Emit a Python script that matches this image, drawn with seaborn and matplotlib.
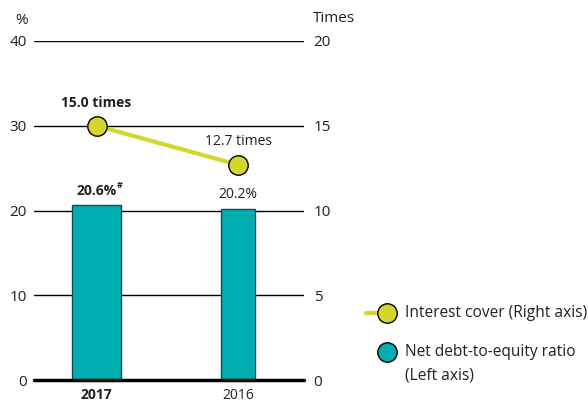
import matplotlib.pyplot as plt
import pandas as pd
import seaborn as sns
from matplotlib.lines import Line2D

years = ['2017', '2016']
net_debt_equity = [20.6, 20.2]
interest_cover = [15.0, 12.7]
debt_labels = ['20.6%', '20.2%']
cover_labels = ['15.0 times', '12.7 times']
left_ticks = [0, 10, 20, 30, 40]
right_ticks = [0, 5, 10, 15, 20]

teal = '#00adb0'
lime = '#d3d72b'
ink = '#231f20'

sns.set_style('white')
plt.rcParams['font.family'] = ['Open Sans', 'DejaVu Sans']
plt.rcParams['text.color'] = ink
plt.rcParams['xtick.color'] = ink
plt.rcParams['ytick.color'] = ink
fs = 10
lfs = 11.2

df = pd.DataFrame({'year': years, 'ratio': net_debt_equity, 'cover': interest_cover})

W, H = 588, 403
fig = plt.figure(figsize=(W / 100, H / 100), dpi=100)
ax = fig.add_axes([34 / W, 23 / H, 270 / W, 339 / H])

sns.barplot(data=df, x='year', y='ratio', ax=ax, color=teal, saturation=1,
            edgecolor='#0d4f50', linewidth=1, width=0.35, zorder=2)
# bars are not the same width in the original
for p, w in zip(ax.patches, [0.346, 0.24]):
    c = p.get_x() + p.get_width() / 2
    p.set_width(w)
    p.set_x(c - w / 2)

ax.set_xlim(-0.442, 1.466)
ax.set_ylim(0, 40)
ax.set_yticks(left_ticks)
ax.yaxis.grid(True, color='black', lw=1)
ax.xaxis.grid(False)
ax.set_axisbelow(True)
ax.axhline(0, color='black', lw=2.5, zorder=3, clip_on=False)
for s in ax.spines.values():
    s.set_visible(False)
ax.tick_params(axis='y', length=0, pad=5, labelsize=11)
ax.tick_params(axis='x', length=0, pad=6, labelsize=fs)
ax.set_xlabel('')
ax.set_ylabel('')
ax.get_xticklabels()[0].set_fontweight('bold')

ax2 = ax.twinx()
sns.lineplot(x=range(len(years)), y=interest_cover, ax=ax2, color=lime, lw=3,
             marker='o', markersize=14, markerfacecolor=lime,
             markeredgecolor='black', markeredgewidth=1, zorder=4)
ax2.set_ylim(0, 20)
ax2.set_yticks(right_ticks)
for s in ax2.spines.values():
    s.set_visible(False)
ax2.tick_params(axis='y', length=0, pad=7, labelsize=11)
ax2.set_ylabel('')

# value labels
for i, (v, t) in enumerate(zip(net_debt_equity, debt_labels)):
    ax.annotate(t, xy=(i, v), xytext=(0, 5), textcoords='offset points',
                ha='center', va='bottom', fontsize=fs,
                fontweight='bold' if i == 0 else 'normal')
ax.annotate('#', xy=(0, net_debt_equity[0]), xytext=(14.5, 11), textcoords='offset points',
            ha='left', va='bottom', fontsize=6.5, fontweight='bold')
for i, (v, t) in enumerate(zip(interest_cover, cover_labels)):
    ax2.annotate(t, xy=(i, v), xytext=(0, 11), textcoords='offset points',
                 ha='center', va='bottom', fontsize=fs,
                 fontweight='bold' if i == 0 else 'normal')

fig.text(22 / W, 1 - 20 / H, '%', ha='center', va='center', fontsize=11)
fig.text(313 / W, 1 - 19 / H, 'Times', ha='left', va='center', fontsize=11)

# legend drawn by hand: line sits only on the left of the marker
y1 = 1 - 313 / H
fig.add_artist(Line2D([366 / W, 384 / W], [y1, y1], color=lime, lw=3))
fig.add_artist(Line2D([387 / W], [y1], marker='o', markersize=14, color=lime,
                      markeredgecolor='black', markeredgewidth=1))
fig.text(405 / W, y1, 'Interest cover (Right axis)', ha='left', va='center', fontsize=lfs)
y2 = 1 - 352 / H
fig.add_artist(Line2D([387 / W], [y2], marker='o', markersize=14, color=teal,
                      markeredgecolor='black', markeredgewidth=1))
fig.text(405 / W, y2, 'Net debt-to-equity ratio', ha='left', va='center', fontsize=lfs)
fig.text(405 / W, 1 - 375 / H, '(Left axis)', ha='left', va='center', fontsize=lfs)

fig.savefig('out.png', dpi=100)
